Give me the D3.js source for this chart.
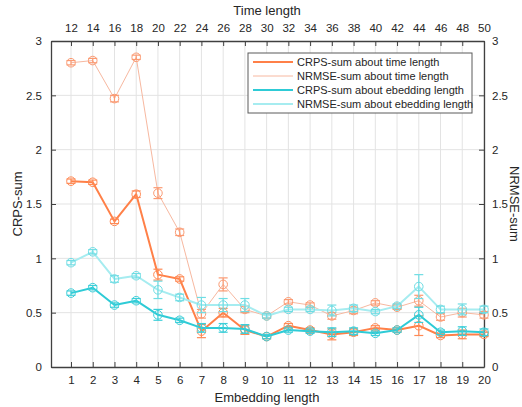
<!DOCTYPE html>
<html>
<head>
<meta charset="utf-8">
<script src="https://cdn.jsdelivr.net/npm/d3@7"></script>
<style>
  body { margin: 0; background: #fff; }
  svg { display: block; font-family: "Liberation Sans", Arial, sans-serif; }
</style>
</head>
<body>
<svg id="chart" width="522" height="407"></svg>
<script>
// ---- data ----
const embedLen = d3.range(1, 21);
const timeTicks = d3.range(12, 51, 2);
const yTicks = [0, 0.5, 1, 1.5, 2, 2.5, 3];

const crpsTime     = [1.71, 1.70, 1.34, 1.59, 0.85, 0.81, 0.33, 0.50, 0.34, 0.28, 0.38, 0.34, 0.30, 0.32, 0.36, 0.34, 0.38, 0.29, 0.30, 0.30];
const crpsTimeErr  = [0.02, 0.02, 0.02, 0.03, 0.05, 0.02, 0.06, 0.04, 0.04, 0.02, 0.02, 0.02, 0.05, 0.03, 0.02, 0.02, 0.09, 0.02, 0.04, 0.02];
const nrmseTime    = [2.80, 2.82, 2.47, 2.85, 1.60, 1.24, 0.49, 0.76, 0.53, 0.47, 0.60, 0.57, 0.47, 0.52, 0.59, 0.55, 0.61, 0.46, 0.50, 0.48];
const nrmseTimeErr = [0.02, 0.02, 0.03, 0.02, 0.05, 0.03, 0.04, 0.06, 0.03, 0.02, 0.02, 0.02, 0.03, 0.03, 0.02, 0.02, 0.05, 0.03, 0.04, 0.03];
const crpsEmb      = [0.68, 0.73, 0.57, 0.61, 0.48, 0.43, 0.36, 0.36, 0.35, 0.28, 0.34, 0.33, 0.32, 0.33, 0.31, 0.34, 0.48, 0.32, 0.33, 0.32];
const crpsEmbErr   = [0.02, 0.02, 0.02, 0.02, 0.05, 0.02, 0.04, 0.04, 0.04, 0.02, 0.02, 0.02, 0.04, 0.03, 0.02, 0.02, 0.07, 0.02, 0.04, 0.03];
const nrmseEmb     = [0.96, 1.06, 0.81, 0.84, 0.71, 0.64, 0.57, 0.57, 0.57, 0.47, 0.53, 0.53, 0.52, 0.54, 0.51, 0.56, 0.74, 0.53, 0.53, 0.53];
const nrmseEmbErr  = [0.02, 0.02, 0.03, 0.02, 0.08, 0.03, 0.07, 0.06, 0.06, 0.02, 0.02, 0.02, 0.05, 0.03, 0.02, 0.02, 0.11, 0.03, 0.05, 0.03];

const seriesNames = ['CRPS-sum about time length', 'NRMSE-sum about time length',
                     'CRPS-sum about ebedding length', 'NRMSE-sum about ebedding length'];

const series = [
  { name: seriesNames[0], vals: crpsTime,  err: crpsTimeErr,  color: '#ff8048', mark: '#ff8a55', width: 2 },
  { name: seriesNames[1], vals: nrmseTime, err: nrmseTimeErr, color: '#f7b8a0', mark: '#fb9a72', width: 1 },
  { name: seriesNames[2], vals: crpsEmb,   err: crpsEmbErr,   color: '#2ecbd6', mark: '#3dcfd9', width: 2 },
  { name: seriesNames[3], vals: nrmseEmb,  err: nrmseEmbErr,  color: '#a6ecf0', mark: '#6fdde4', width: 2 },
];

// ---- layout ----
const m = { left: 51, right: 484, top: 41, bottom: 367 };
const axisCol = '#404040';

const svg = d3.select('#chart');

const x  = d3.scaleLinear().domain([0.08, 20]).range([m.left, m.right]);
const xt = d3.scaleLinear().domain([10.16, 50]).range([m.left, m.right]);
const y  = d3.scaleLinear().domain([0, 3]).range([m.bottom, m.top]);

// grid
const grid = svg.append('g');
grid.selectAll('.gx').data(embedLen).enter().append('line')
  .attr('x1', d => x(d)).attr('x2', d => x(d))
  .attr('y1', m.top).attr('y2', m.bottom)
  .attr('stroke', '#e3e3e3').attr('stroke-width', 1);
grid.selectAll('.gy').data(yTicks.slice(1, -1)).enter().append('line')
  .attr('x1', m.left).attr('x2', m.right)
  .attr('y1', d => y(d)).attr('y2', d => y(d))
  .attr('stroke', '#e3e3e3').attr('stroke-width', 1);

// axes (ticks pointing inward, MATLAB style)
const fmt = d => String(d);
function styleAxis(g) {
  g.select('.domain').attr('stroke', axisCol).attr('stroke-width', 1.3);
  g.selectAll('.tick line').attr('stroke', axisCol);
  g.selectAll('.tick text').attr('fill', '#262626').attr('font-size', 11.5)
    .attr('font-family', '"Liberation Sans", Arial, sans-serif');
}
svg.append('g').attr('transform', `translate(0,${m.bottom})`)
  .call(d3.axisBottom(x).tickValues(embedLen).tickSizeInner(-5).tickSizeOuter(0).tickPadding(9).tickFormat(fmt))
  .call(styleAxis);
svg.append('g').attr('transform', `translate(0,${m.top})`)
  .call(d3.axisTop(xt).tickValues(timeTicks).tickSizeInner(-5).tickSizeOuter(0).tickPadding(9).tickFormat(fmt))
  .call(styleAxis);
svg.append('g').attr('transform', `translate(${m.left},0)`)
  .call(d3.axisLeft(y).tickValues(yTicks).tickSizeInner(-5).tickSizeOuter(0).tickPadding(9).tickFormat(fmt))
  .call(styleAxis);
svg.append('g').attr('transform', `translate(${m.right},0)`)
  .call(d3.axisRight(y).tickValues(yTicks).tickSizeInner(-5).tickSizeOuter(0).tickPadding(8).tickFormat(fmt))
  .call(styleAxis);

// axis titles
const title = (t, tx, ty, rot) => svg.append('text')
  .attr('transform', `translate(${tx},${ty})` + (rot ? ` rotate(${rot})` : ''))
  .attr('text-anchor', 'middle').attr('fill', '#262626').attr('font-size', 13)
  .text(t);
title('Embedding length', 267, 402);
title('Time length', 267, 15);
title('CRPS-sum', 22, 204, -90);
title('NRMSE-sum', 510, 204, 90);

// series
const plot = svg.append('g');
const line = d3.line().x((d, i) => x(embedLen[i])).y(d => y(d));
series.forEach(s => {
  const g = plot.append('g');
  g.append('path').datum(s.vals).attr('d', line)
    .attr('fill', 'none').attr('stroke', s.color).attr('stroke-width', s.width)
    .attr('stroke-linejoin', 'round');
  const pts = s.vals.map((v, i) => ({ x: embedLen[i], v, e: s.err[i] }));
  const eb = g.selectAll('.eb').data(pts).enter().append('g');
  eb.append('line')
    .attr('x1', d => x(d.x)).attr('x2', d => x(d.x))
    .attr('y1', d => y(d.v - d.e)).attr('y2', d => y(d.v + d.e));
  eb.append('line')
    .attr('x1', d => x(d.x) - 4.5).attr('x2', d => x(d.x) + 4.5)
    .attr('y1', d => y(d.v - d.e)).attr('y2', d => y(d.v - d.e));
  eb.append('line')
    .attr('x1', d => x(d.x) - 4.5).attr('x2', d => x(d.x) + 4.5)
    .attr('y1', d => y(d.v + d.e)).attr('y2', d => y(d.v + d.e));
  eb.selectAll('line').attr('stroke', s.mark).attr('stroke-width', 1.2);
  g.selectAll('.mk').data(pts).enter().append('circle')
    .attr('cx', d => x(d.x)).attr('cy', d => y(d.v)).attr('r', 4.3)
    .attr('fill', 'none').attr('stroke', s.mark).attr('stroke-width', 1);
});

// legend
const lg = svg.append('g').attr('transform', 'translate(248,53)');
lg.append('rect').attr('width', 224).attr('height', 60)
  .attr('fill', '#fff').attr('stroke', '#5a5a5a').attr('stroke-width', 1);
series.forEach((s, i) => {
  const yy = 9 + i * 14;
  lg.append('line').attr('x1', 5).attr('x2', 45).attr('y1', yy).attr('y2', yy)
    .attr('stroke', s.color).attr('stroke-width', s.width);
  lg.append('text').attr('x', 49).attr('y', yy + 4).attr('font-size', 11)
    .attr('fill', '#262626').text(s.name);
});
</script>
</body>
</html>
